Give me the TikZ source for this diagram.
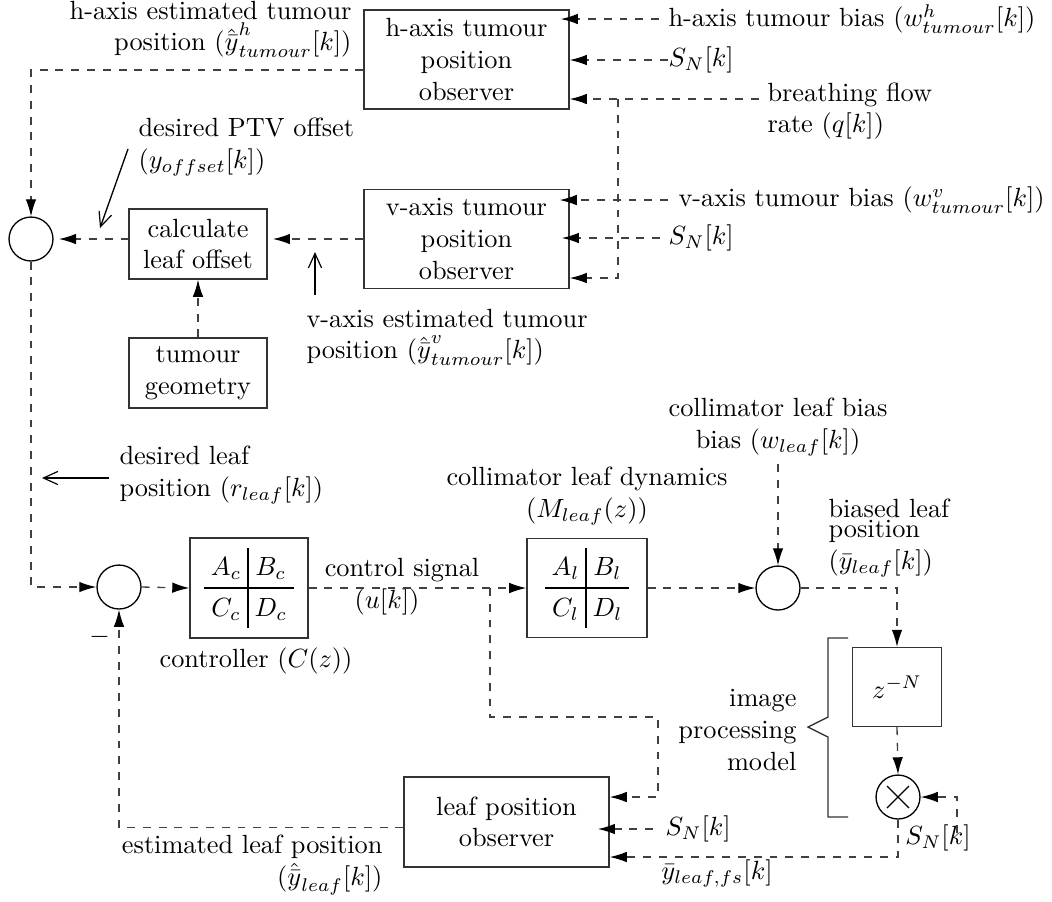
\documentclass[tikz,border=0pt]{standalone}
\usetikzlibrary{arrows.meta,calc}
\begin{document}
\begin{tikzpicture}[x=0.38pt,y=-0.38pt,
 box/.style={draw=black!80,line width=0.5pt,align=center,inner sep=0pt},
 sumnode/.style={draw=black,circle,minimum size=16.7pt,inner sep=0pt,line width=0.5pt},
 sig/.style={dashed,draw=black!75,line width=0.5pt,-{Latex[length=6.5pt,width=4pt,color=black]}},
 ptr/.style={line width=0.5pt,-{Straight Barb[length=5.5pt,width=5pt,line width=0.45pt]}},
 lbl/.style={inner sep=0pt},
]
\useasboundingbox (0,0) rectangle (1052,901);
% blocks
\node[box,minimum width=77.9pt,minimum height=37.6pt] (hbox) at (466.5,59.5) {h-axis tumour\\position\\observer};
\node[box,minimum width=77.9pt,minimum height=37.6pt] (vbox) at (466.5,239) {v-axis tumour\\position\\observer};
\node[box,minimum width=52.4pt,minimum height=26.6pt] (calc) at (198,244) {calculate\\leaf offset};
\node[box,minimum width=52.4pt,minimum height=26.6pt] (geom) at (198,373) {tumour\\geometry};
\node[box,minimum width=44.8pt,minimum height=38pt] (ctrl) at (249,588)
 {\renewcommand{\arraystretch}{1.25}\setlength{\arraycolsep}{2.5pt}$\begin{array}{c|c} A_c & B_c\\ \hline C_c & D_c\end{array}$};
\node[box,minimum width=45.6pt,minimum height=37.6pt] (ldyn) at (587,588)
 {\renewcommand{\arraystretch}{1.25}\setlength{\arraycolsep}{2.5pt}$\begin{array}{c|c} A_l & B_l\\ \hline C_l & D_l\end{array}$};
\node[box,minimum width=77.9pt,minimum height=34.2pt] (lobs) at (506.5,822) {leaf position\\observer};
\node[box,minimum width=33.8pt,minimum height=30pt] (zbox) at (897,687) {$z^{-N}$};
% summing junctions
\node[sumnode] (s1) at (31,239) {};
\node[sumnode] (s2) at (119,587) {};
\node[sumnode] (s3) at (778,588) {};
\node[sumnode] (mult) at (898,797) {};
\draw[line width=0.5pt] ($(mult.center)+(-11,-11)$) -- ($(mult.center)+(11,11)$);
\draw[line width=0.5pt] ($(mult.center)+(-11,11)$) -- ($(mult.center)+(11,-11)$);
% labels
\node[lbl,anchor=west] (hbias) at (668,19) {h-axis tumour bias ($w^h_{tumour}[k]$)};
\node[lbl,anchor=west] (hS) at (668,60) {$S_N[k]$};
\node[lbl,anchor=west,align=left] (breath) at (767,111) {breathing flow\\rate ($q[k]$)};
\node[lbl,anchor=west] (vbias) at (678,200) {v-axis tumour bias ($w^v_{tumour}[k]$)};
\node[lbl,anchor=west] (vS) at (668,238) {$S_N[k]$};
\node[lbl,anchor=east,align=right] (hest) at (352,29) {h-axis estimated tumour\\position ($\hat{\bar{y}}^h_{tumour}[k]$)};
\node[lbl,anchor=west,align=left] (ptv) at (138,147) {desired PTV offset\\($y_{offset}[k]$)};
\node[lbl,anchor=west,align=left] (vest) at (306,337) {v-axis estimated tumour\\position ($\hat{\bar{y}}^v_{tumour}[k]$)};
\node[lbl,anchor=west,align=left] (dleaf) at (119,475) {desired leaf\\position ($r_{leaf}[k]$)};
\node[lbl] (csig) at (402,570) {control signal};
\node[lbl] (uk) at (387,602) {($u[k]$)};
\node[lbl] (ctrllbl) at (256,661) {controller ($C(z)$)};
\node[lbl,align=center] (dynlbl) at (587,496) {collimator leaf dynamics\\($M_{leaf}(z)$)};
\node[lbl,align=center] (wleaf) at (778,427) {collimator leaf bias\\bias ($w_{leaf}[k]$)};
\node[lbl,anchor=west,align=left] (biased) at (828,538) {biased leaf\\[-4.5pt]position\\($\bar{y}_{leaf}[k]$)};
\node[lbl,anchor=east,align=right] (imgp) at (797,730) {image\\processing\\model};
\node[lbl] (mS) at (938,838) {$S_N[k]$};
\node[lbl] (yfs) at (717,873) {$\bar{y}_{leaf,fs}[k]$};
\node[lbl,anchor=west] (lS) at (665,829) {$S_N[k]$};
\node[lbl,anchor=east,align=right] (eleaf) at (383,865) {estimated leaf position\\($\hat{\bar{y}}_{leaf}[k]$)};
\node[lbl] (minus) at (99.5,637) {$-$};
% coordinates
\coordinate (bq) at (759,99);
\coordinate (bj) at (618,99);
\coordinate (bk) at (618,278);
\coordinate (uj) at (490,588);
\coordinate (uc) at (658,717);
\coordinate (ms) at (957,833);
\coordinate (ptva) at (128,149);
\coordinate (ptvb) at (100,228);
\coordinate (vesta) at (315,295);
\coordinate (vestb) at (315,252);
\coordinate (dla) at (109,478);
\coordinate (dlb) at (42,478);
% signals
\draw[sig] ([xshift=-3.4pt]hbias.west) -- ([xshift=-3.4pt]hbias.west -| hbox.east);
\draw[sig] (hS.west) -- (hS.west -| hbox.east);
\draw[sig] (bq) -- (bq -| hbox.east);
\draw[sig] (bj) -- (bk) -- (bk -| vbox.east);
\draw[sig] ([xshift=-3.8pt]vbias.west) -- ([xshift=-3.8pt]vbias.west -| vbox.east);
\draw[sig] ([xshift=-3pt]vS.west) -- ([xshift=-3pt]vS.west -| vbox.east);
\draw[sig] ([yshift=-4pt]hbox.west) -| (s1.north);
\draw[sig,shorten >=2pt] (vbox.west) -- (vbox.west -| calc.east);
\draw[sig,shorten >=2pt] (calc.west |- s1.east) -- (s1.east);
\draw[sig] (geom.north) -- (calc.south);
\draw[sig] (s1.south) |- (s2.west);
\draw[sig] (s2.east) -- (ctrl.west);
\draw[sig] (ctrl.east) -- (ldyn.west);
\draw[sig] (uj) |- (uc) |- ([yshift=9.5pt]lobs.east);
\draw[sig] (ldyn.east) -- (s3.west);
\draw[sig] ([yshift=-3pt]wleaf.south) -- (s3.north);
\draw[sig] (s3.east) -| (zbox.north);
\draw[sig] (zbox.south) -- (mult.north);
\draw[sig] (ms) |- (mult.east);
\draw[sig] (mult.south) |- ([yshift=-13.3pt]lobs.east);
\draw[sig] ([xshift=-4.5pt]lS.west) -- ([xshift=-4.5pt]lS.west -| lobs.east);
\draw[sig] ([yshift=-2pt]lobs.west) -| (s2.south);
% pointers
\draw[ptr] (ptva) -- (ptvb);
\draw[ptr] (vesta) -- (vestb);
\draw[ptr] (dla) -- (dlb);
% brace
\draw[draw=black!80,line width=0.5pt] (848,638) -- (828,638) -- (828,717) -- (808,727) -- (828,737) -- (828,817) -- (848,817);
\end{tikzpicture}
\end{document}
